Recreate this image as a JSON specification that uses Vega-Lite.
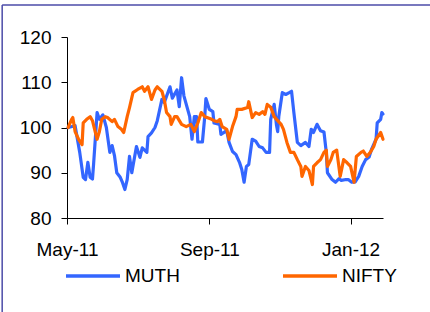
{
  "$schema": "https://vega.github.io/schema/vega-lite/v6.json",
  "autosize": {"type": "none"},
  "width": 316,
  "height": 181,
  "padding": {"left": 67, "top": 37, "right": 47, "bottom": 94},
  "background": "white",
  "config": {
    "font": "Liberation Sans",
    "view": {"stroke": null},
    "axis": {"grid": false, "domainColor": "black", "tickColor": "black", "labelColor": "black", "labelFont": "Liberation Sans", "labelFontSize": 19, "tickSize": 6, "domainWidth": 1, "tickWidth": 1}
  },
  "layer": [
    {
      "data": {"values": [{}]},
      "mark": {"type": "rule", "color": "#4b4ba8", "strokeWidth": 1.5},
      "encoding": {
        "x": {"datum": {"year": 2011, "month": 3, "date": 6, "utc": true}, "type": "temporal"},
        "y": {"datum": 127.07, "type": "quantitative"},
        "y2": {"datum": 59}
      }
    },
    {
      "data": {"values": [{}]},
      "mark": {"type": "rule", "color": "#4b4ba8", "strokeWidth": 1.5},
      "encoding": {
        "x": {"datum": {"year": 2011, "month": 3, "date": 6, "utc": true}, "type": "temporal"},
        "x2": {"datum": {"year": 2012, "month": 3, "date": 20, "utc": true}},
        "y": {"datum": 127.07, "type": "quantitative"}
      }
    },
    {
      "data": {"values": [
        {"d":"2011-05-02","s":"MUTH","v":100},
        {"d":"2011-05-08","s":"MUTH","v":100.4},
        {"d":"2011-05-12","s":"MUTH","v":94.5},
        {"d":"2011-05-15","s":"MUTH","v":89},
        {"d":"2011-05-17","s":"MUTH","v":88.5},
        {"d":"2011-05-19","s":"MUTH","v":92.3},
        {"d":"2011-05-21","s":"MUTH","v":89},
        {"d":"2011-05-23","s":"MUTH","v":88.6},
        {"d":"2011-05-24","s":"MUTH","v":92},
        {"d":"2011-05-27","s":"MUTH","v":103.3},
        {"d":"2011-05-29","s":"MUTH","v":101.8},
        {"d":"2011-06-01","s":"MUTH","v":102.8},
        {"d":"2011-06-04","s":"MUTH","v":100},
        {"d":"2011-06-07","s":"MUTH","v":94.5},
        {"d":"2011-06-09","s":"MUTH","v":96},
        {"d":"2011-06-11","s":"MUTH","v":93.8},
        {"d":"2011-06-13","s":"MUTH","v":90},
        {"d":"2011-06-16","s":"MUTH","v":89},
        {"d":"2011-06-18","s":"MUTH","v":87.8},
        {"d":"2011-06-20","s":"MUTH","v":86.3},
        {"d":"2011-06-22","s":"MUTH","v":88.5},
        {"d":"2011-06-24","s":"MUTH","v":93.6},
        {"d":"2011-06-26","s":"MUTH","v":90},
        {"d":"2011-06-27","s":"MUTH","v":91.5},
        {"d":"2011-06-30","s":"MUTH","v":95.8},
        {"d":"2011-07-03","s":"MUTH","v":93.4},
        {"d":"2011-07-05","s":"MUTH","v":95.5},
        {"d":"2011-07-09","s":"MUTH","v":94.5},
        {"d":"2011-07-10","s":"MUTH","v":98},
        {"d":"2011-07-13","s":"MUTH","v":98.8},
        {"d":"2011-07-16","s":"MUTH","v":100},
        {"d":"2011-07-18","s":"MUTH","v":101.5},
        {"d":"2011-07-22","s":"MUTH","v":106.2},
        {"d":"2011-07-24","s":"MUTH","v":105.5},
        {"d":"2011-07-29","s":"MUTH","v":109},
        {"d":"2011-07-31","s":"MUTH","v":106.5},
        {"d":"2011-08-04","s":"MUTH","v":108.3},
        {"d":"2011-08-06","s":"MUTH","v":104.6},
        {"d":"2011-08-08","s":"MUTH","v":111},
        {"d":"2011-08-10","s":"MUTH","v":107},
        {"d":"2011-08-15","s":"MUTH","v":102.4},
        {"d":"2011-08-17","s":"MUTH","v":97.4},
        {"d":"2011-08-19","s":"MUTH","v":102.4},
        {"d":"2011-08-21","s":"MUTH","v":102.4},
        {"d":"2011-08-22","s":"MUTH","v":96.8},
        {"d":"2011-08-26","s":"MUTH","v":96.8},
        {"d":"2011-08-28","s":"MUTH","v":102.4},
        {"d":"2011-08-29","s":"MUTH","v":106.4},
        {"d":"2011-09-01","s":"MUTH","v":104},
        {"d":"2011-09-04","s":"MUTH","v":103.5},
        {"d":"2011-09-05","s":"MUTH","v":101},
        {"d":"2011-09-10","s":"MUTH","v":100.7},
        {"d":"2011-09-11","s":"MUTH","v":98.5},
        {"d":"2011-09-16","s":"MUTH","v":99.3},
        {"d":"2011-09-18","s":"MUTH","v":96.7},
        {"d":"2011-09-21","s":"MUTH","v":94.7},
        {"d":"2011-09-24","s":"MUTH","v":94},
        {"d":"2011-09-27","s":"MUTH","v":92.3},
        {"d":"2011-09-29","s":"MUTH","v":90.7},
        {"d":"2011-10-01","s":"MUTH","v":87.9},
        {"d":"2011-10-03","s":"MUTH","v":91.4},
        {"d":"2011-10-05","s":"MUTH","v":91.8},
        {"d":"2011-10-08","s":"MUTH","v":97.4},
        {"d":"2011-10-11","s":"MUTH","v":97},
        {"d":"2011-10-14","s":"MUTH","v":95.8},
        {"d":"2011-10-17","s":"MUTH","v":95.5},
        {"d":"2011-10-20","s":"MUTH","v":94.5},
        {"d":"2011-10-23","s":"MUTH","v":94.5},
        {"d":"2011-10-24","s":"MUTH","v":101.8},
        {"d":"2011-10-27","s":"MUTH","v":105.1},
        {"d":"2011-10-29","s":"MUTH","v":100.5},
        {"d":"2011-10-30","s":"MUTH","v":99.1},
        {"d":"2011-10-31","s":"MUTH","v":102.5},
        {"d":"2011-11-03","s":"MUTH","v":107.7},
        {"d":"2011-11-06","s":"MUTH","v":107.3},
        {"d":"2011-11-09","s":"MUTH","v":107.7},
        {"d":"2011-11-11","s":"MUTH","v":108},
        {"d":"2011-11-13","s":"MUTH","v":103.3},
        {"d":"2011-11-15","s":"MUTH","v":98.9},
        {"d":"2011-11-16","s":"MUTH","v":96.7},
        {"d":"2011-11-19","s":"MUTH","v":96},
        {"d":"2011-11-23","s":"MUTH","v":96.7},
        {"d":"2011-11-26","s":"MUTH","v":95.8},
        {"d":"2011-11-28","s":"MUTH","v":99.6},
        {"d":"2011-11-30","s":"MUTH","v":98.9},
        {"d":"2011-12-03","s":"MUTH","v":100.7},
        {"d":"2011-12-06","s":"MUTH","v":99.3},
        {"d":"2011-12-09","s":"MUTH","v":99},
        {"d":"2011-12-11","s":"MUTH","v":94.5},
        {"d":"2011-12-12","s":"MUTH","v":90},
        {"d":"2011-12-16","s":"MUTH","v":88.5},
        {"d":"2011-12-19","s":"MUTH","v":87.9},
        {"d":"2011-12-22","s":"MUTH","v":88.7},
        {"d":"2011-12-24","s":"MUTH","v":88.3},
        {"d":"2011-12-28","s":"MUTH","v":88.5},
        {"d":"2011-12-30","s":"MUTH","v":88.5},
        {"d":"2012-01-02","s":"MUTH","v":87.9},
        {"d":"2012-01-05","s":"MUTH","v":88},
        {"d":"2012-01-08","s":"MUTH","v":89.2},
        {"d":"2012-01-11","s":"MUTH","v":91.4},
        {"d":"2012-01-14","s":"MUTH","v":92.9},
        {"d":"2012-01-17","s":"MUTH","v":93.5},
        {"d":"2012-01-19","s":"MUTH","v":95.1},
        {"d":"2012-01-23","s":"MUTH","v":97.4},
        {"d":"2012-01-24","s":"MUTH","v":101},
        {"d":"2012-01-27","s":"MUTH","v":101.8},
        {"d":"2012-01-28","s":"MUTH","v":103.3},
        {"d":"2012-01-29","s":"MUTH","v":103},
        {"d":"2011-05-02","s":"NIFTY","v":100},
        {"d":"2011-05-05","s":"NIFTY","v":101.8},
        {"d":"2011-05-06","s":"NIFTY","v":102.2},
        {"d":"2011-05-08","s":"NIFTY","v":99.1},
        {"d":"2011-05-11","s":"NIFTY","v":97.4},
        {"d":"2011-05-14","s":"NIFTY","v":96.2},
        {"d":"2011-05-15","s":"NIFTY","v":101},
        {"d":"2011-05-18","s":"NIFTY","v":101.8},
        {"d":"2011-05-21","s":"NIFTY","v":102.4},
        {"d":"2011-05-23","s":"NIFTY","v":101.5},
        {"d":"2011-05-27","s":"NIFTY","v":97.4},
        {"d":"2011-05-29","s":"NIFTY","v":99.1},
        {"d":"2011-05-31","s":"NIFTY","v":101.8},
        {"d":"2011-06-03","s":"NIFTY","v":102.4},
        {"d":"2011-06-05","s":"NIFTY","v":102.2},
        {"d":"2011-06-09","s":"NIFTY","v":101.3},
        {"d":"2011-06-11","s":"NIFTY","v":101.8},
        {"d":"2011-06-14","s":"NIFTY","v":100.2},
        {"d":"2011-06-17","s":"NIFTY","v":99.6},
        {"d":"2011-06-19","s":"NIFTY","v":98.9},
        {"d":"2011-06-22","s":"NIFTY","v":102.4},
        {"d":"2011-06-24","s":"NIFTY","v":104.4},
        {"d":"2011-06-27","s":"NIFTY","v":107.7},
        {"d":"2011-07-01","s":"NIFTY","v":108.4},
        {"d":"2011-07-05","s":"NIFTY","v":109},
        {"d":"2011-07-07","s":"NIFTY","v":108},
        {"d":"2011-07-10","s":"NIFTY","v":109},
        {"d":"2011-07-13","s":"NIFTY","v":106.2},
        {"d":"2011-07-16","s":"NIFTY","v":108.3},
        {"d":"2011-07-18","s":"NIFTY","v":109},
        {"d":"2011-07-22","s":"NIFTY","v":108},
        {"d":"2011-07-24","s":"NIFTY","v":106.2},
        {"d":"2011-07-26","s":"NIFTY","v":103.3},
        {"d":"2011-07-29","s":"NIFTY","v":102.4},
        {"d":"2011-07-30","s":"NIFTY","v":100.7},
        {"d":"2011-08-02","s":"NIFTY","v":102.4},
        {"d":"2011-08-04","s":"NIFTY","v":102.4},
        {"d":"2011-08-08","s":"NIFTY","v":100.7},
        {"d":"2011-08-12","s":"NIFTY","v":100.2},
        {"d":"2011-08-16","s":"NIFTY","v":100.7},
        {"d":"2011-08-19","s":"NIFTY","v":99.1},
        {"d":"2011-08-22","s":"NIFTY","v":101},
        {"d":"2011-08-25","s":"NIFTY","v":103.3},
        {"d":"2011-08-28","s":"NIFTY","v":102.4},
        {"d":"2011-08-30","s":"NIFTY","v":102.2},
        {"d":"2011-09-03","s":"NIFTY","v":101.8},
        {"d":"2011-09-05","s":"NIFTY","v":101.5},
        {"d":"2011-09-08","s":"NIFTY","v":101.3},
        {"d":"2011-09-10","s":"NIFTY","v":101.8},
        {"d":"2011-09-12","s":"NIFTY","v":100.2},
        {"d":"2011-09-16","s":"NIFTY","v":99.6},
        {"d":"2011-09-18","s":"NIFTY","v":97.4},
        {"d":"2011-09-21","s":"NIFTY","v":100.2},
        {"d":"2011-09-24","s":"NIFTY","v":102.4},
        {"d":"2011-09-25","s":"NIFTY","v":104},
        {"d":"2011-09-29","s":"NIFTY","v":104},
        {"d":"2011-10-04","s":"NIFTY","v":104.4},
        {"d":"2011-10-05","s":"NIFTY","v":105.7},
        {"d":"2011-10-08","s":"NIFTY","v":102.2},
        {"d":"2011-10-11","s":"NIFTY","v":103.3},
        {"d":"2011-10-14","s":"NIFTY","v":102.9},
        {"d":"2011-10-17","s":"NIFTY","v":103.5},
        {"d":"2011-10-19","s":"NIFTY","v":102.9},
        {"d":"2011-10-21","s":"NIFTY","v":105.1},
        {"d":"2011-10-24","s":"NIFTY","v":104.5},
        {"d":"2011-10-27","s":"NIFTY","v":102.4},
        {"d":"2011-10-29","s":"NIFTY","v":101.8},
        {"d":"2011-11-02","s":"NIFTY","v":100.7},
        {"d":"2011-11-04","s":"NIFTY","v":99.6},
        {"d":"2011-11-07","s":"NIFTY","v":96.7},
        {"d":"2011-11-10","s":"NIFTY","v":94.5},
        {"d":"2011-11-13","s":"NIFTY","v":94.5},
        {"d":"2011-11-16","s":"NIFTY","v":92.9},
        {"d":"2011-11-19","s":"NIFTY","v":91.4},
        {"d":"2011-11-20","s":"NIFTY","v":89.2},
        {"d":"2011-11-23","s":"NIFTY","v":91.4},
        {"d":"2011-11-26","s":"NIFTY","v":90.5},
        {"d":"2011-11-29","s":"NIFTY","v":87.4},
        {"d":"2011-11-30","s":"NIFTY","v":91.4},
        {"d":"2011-12-03","s":"NIFTY","v":92.2},
        {"d":"2011-12-06","s":"NIFTY","v":92.9},
        {"d":"2011-12-09","s":"NIFTY","v":94.5},
        {"d":"2011-12-11","s":"NIFTY","v":95},
        {"d":"2011-12-12","s":"NIFTY","v":91.4},
        {"d":"2011-12-15","s":"NIFTY","v":92.9},
        {"d":"2011-12-17","s":"NIFTY","v":94.5},
        {"d":"2011-12-20","s":"NIFTY","v":95},
        {"d":"2011-12-23","s":"NIFTY","v":89.2},
        {"d":"2011-12-26","s":"NIFTY","v":92.9},
        {"d":"2011-12-29","s":"NIFTY","v":92.2},
        {"d":"2012-01-01","s":"NIFTY","v":91.4},
        {"d":"2012-01-04","s":"NIFTY","v":87.9},
        {"d":"2012-01-06","s":"NIFTY","v":93.6},
        {"d":"2012-01-10","s":"NIFTY","v":94.5},
        {"d":"2012-01-12","s":"NIFTY","v":94.8},
        {"d":"2012-01-15","s":"NIFTY","v":93.6},
        {"d":"2012-01-18","s":"NIFTY","v":94.5},
        {"d":"2012-01-21","s":"NIFTY","v":95.8},
        {"d":"2012-01-23","s":"NIFTY","v":97.4},
        {"d":"2012-01-27","s":"NIFTY","v":98.9},
        {"d":"2012-01-29","s":"NIFTY","v":97.4}
      ]},
      "mark": {"type": "line", "strokeWidth": 3.2, "strokeJoin": "round", "strokeCap": "round"},
      "encoding": {
        "x": {
          "field": "d", "type": "temporal",
          "scale": {"type": "utc", "domain": [{"year": 2011, "month": 5, "date": 1, "utc": true}, {"year": 2012, "month": 1, "date": 29, "utc": true}]},
          "axis": {"title": null, "format": "%b-%y", "values": [{"year": 2011, "month": 5, "date": 1, "utc": true}, {"year": 2011, "month": 9, "date": 1, "utc": true}, {"year": 2012, "month": 1, "date": 1, "utc": true}], "labelBaseline": "alphabetic", "labelPadding": 31, "labelAlign": "center", "labelFlush": false}
        },
        "y": {
          "field": "v", "type": "quantitative",
          "scale": {"domain": [80, 120], "nice": false, "zero": false},
          "axis": {"title": null, "values": [80, 90, 100, 110, 120], "labelPadding": 10}
        },
        "color": {
          "field": "s", "type": "nominal",
          "scale": {"domain": ["MUTH", "NIFTY"], "range": ["#3366ff", "#ff6600"]},
          "legend": {"title": null, "orient": "none", "direction": "horizontal", "legendX": -3, "legendY": 210, "symbolType": "stroke", "symbolSize": 2916, "symbolStrokeWidth": 3.5, "labelFontSize": 19, "labelColor": "black", "labelOffset": 3, "columnPadding": 96}
        }
      }
    }
  ]
}
